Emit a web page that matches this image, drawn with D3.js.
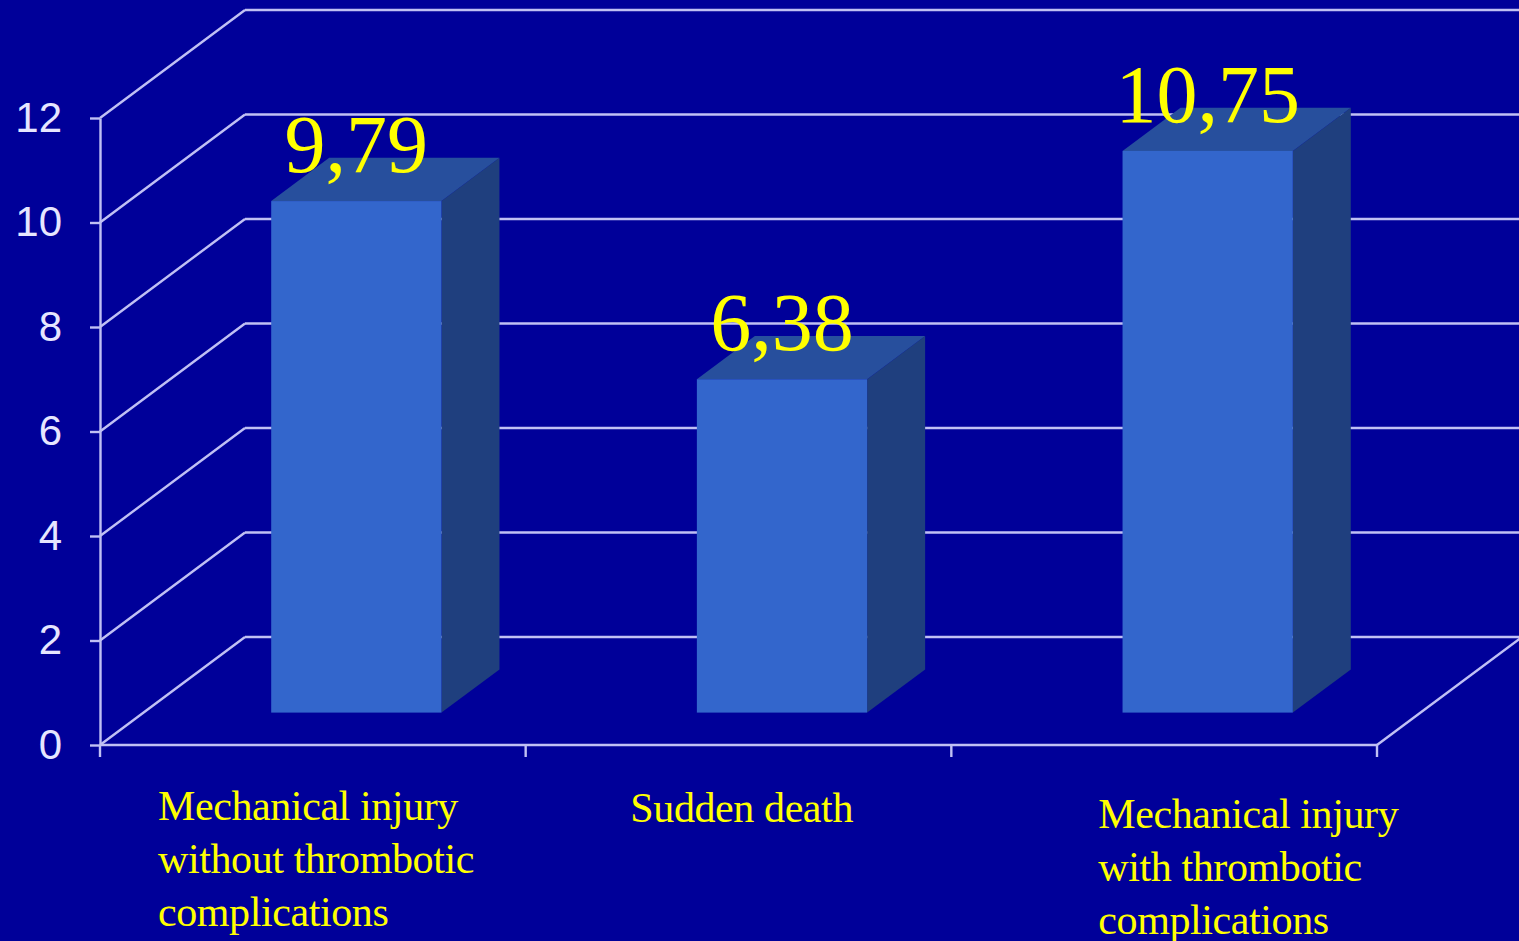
<!DOCTYPE html>
<html>
<head>
<meta charset="utf-8">
<script src="https://cdn.jsdelivr.net/npm/d3@7"></script>
<style>
  html, body { margin: 0; padding: 0; background: #000099; overflow: hidden; }
  svg { display: block; }
</style>
</head>
<body>
<svg id="chart" width="1519" height="941"></svg>
<script>
// Chart data
const categories = [
  "Mechanical injury without thrombotic complications",
  "Sudden death",
  "Mechanical injury with thrombotic complications"
];
const categoryLines = [
  ["Mechanical injury", "without thrombotic", "complications"],
  ["Sudden death"],
  ["Mechanical injury", "with thrombotic", "complications"]
];
const values = [9.79, 6.38, 10.75];
const yTicks = [0, 2, 4, 6, 8, 10, 12];

// Layout
const W = 1519, H = 941;
const plot = { left: 100, right: 1377, bottom: 745, top: 118 };
const depth = { dx: 145, dy: -108 };     // full floor depth (oblique projection)
const barDepth = [0.3, 0.7];              // bar spans this fraction of the depth
const barWidthFrac = 0.4;                 // bar width as share of the category band
const colors = {
  bg: "#000099",
  grid: "#c0c0f4",
  axisText: "#e6e6ff",
  front: "#3366cc",
  top: "#274f9d",
  side: "#1f3f7e",
  label: "#ffff00"
};
// category label anchoring relative to band start / axis line
const catLabelLayout = [
  { anchor: "start",  dx: 58,  dy: 75 },
  { anchor: "middle", dx: 216, dy: 77 },
  { anchor: "start",  dx: 147, dy: 83 }
];

const svg = d3.select("#chart");
svg.append("rect").attr("width", W).attr("height", H).attr("fill", colors.bg);

const y = d3.scaleLinear().domain([0, 12]).range([plot.bottom, plot.top]);
const x = d3.scaleBand().domain(categories).range([plot.left, plot.right]).padding(0);

const fmt = d3.formatLocale({ decimal: ",", thousands: ".", grouping: [3], currency: ["", ""] }).format(".2f");

// Back wall gridlines
const grid = svg.append("g").attr("stroke", colors.grid).attr("stroke-width", 2.4).attr("fill", "none");
grid.selectAll("line.back")
  .data(yTicks)
  .join("line")
  .attr("class", "back")
  .attr("x1", plot.left + depth.dx)
  .attr("x2", W + 10)
  .attr("y1", d => y(d) + depth.dy)
  .attr("y2", d => y(d) + depth.dy);

// Side wall diagonals
grid.selectAll("line.side")
  .data(yTicks)
  .join("line")
  .attr("class", "side")
  .attr("x1", plot.left)
  .attr("y1", d => y(d))
  .attr("x2", plot.left + depth.dx)
  .attr("y2", d => y(d) + depth.dy);

// Floor right edge
grid.append("line")
  .attr("x1", plot.right).attr("y1", y(0))
  .attr("x2", plot.right + depth.dx).attr("y2", y(0) + depth.dy);

// Bars (3D boxes)
const bars = svg.append("g");
values.forEach((v, i) => {
  const c = categories[i];
  const bw = x.bandwidth() * barWidthFrac;
  const ox = depth.dx * barDepth[0], oy = depth.dy * barDepth[0];
  const bx = depth.dx * (barDepth[1] - barDepth[0]), by = depth.dy * (barDepth[1] - barDepth[0]);
  const x0 = x(c) + (x.bandwidth() - bw) / 2 + ox;
  const x1 = x0 + bw;
  const yb = y(0) + oy;
  const yt = y(v) + oy;
  // side face
  bars.append("path")
    .attr("fill", colors.side)
    .attr("d", `M${x1},${yt} L${x1 + bx},${yt + by} L${x1 + bx},${yb + by} L${x1},${yb} Z`);
  // top face
  bars.append("path")
    .attr("fill", colors.top)
    .attr("d", `M${x0},${yt} L${x0 + bx},${yt + by} L${x1 + bx},${yt + by} L${x1},${yt} Z`);
  // front face
  bars.append("rect")
    .attr("fill", colors.front)
    .attr("x", x0).attr("y", yt)
    .attr("width", bw).attr("height", yb - yt);
  // value label
  svg.append("text")
    .attr("x", (x0 + x1) / 2)
    .attr("y", yt - 29)
    .attr("text-anchor", "middle")
    .attr("fill", colors.label)
    .attr("font-family", "'Liberation Serif', 'Times New Roman', serif")
    .attr("font-size", 82)
    .text(fmt(v));
});

// Y axis
const yAxis = d3.axisLeft(y).tickValues(yTicks).tickSize(10).tickSizeOuter(0).tickPadding(28).tickFormat(d3.format("d"));
const yg = svg.append("g").attr("transform", `translate(${plot.left},0)`).call(yAxis);
yg.selectAll("path, line").attr("stroke", colors.grid).attr("stroke-width", 2.4);
yg.selectAll("text")
  .attr("fill", colors.axisText)
  .attr("font-family", "'Liberation Sans', Arial, sans-serif")
  .attr("font-size", 42);

// X axis line and ticks at band boundaries
const xg = svg.append("g").attr("stroke", colors.grid).attr("stroke-width", 2.4);
xg.append("line")
  .attr("x1", plot.left).attr("x2", plot.right)
  .attr("y1", y(0)).attr("y2", y(0));
const boundaries = categories.map(c => x(c)).concat([x(categories[categories.length - 1]) + x.bandwidth()]);
xg.selectAll("line.tick")
  .data(boundaries)
  .join("line")
  .attr("class", "tick")
  .attr("x1", d => d).attr("x2", d => d)
  .attr("y1", y(0)).attr("y2", y(0) + 12);

// Category labels
categoryLines.forEach((lines, i) => {
  const lay = catLabelLayout[i];
  const t = svg.append("text")
    .attr("fill", colors.label)
    .attr("font-family", "'Liberation Serif', 'Times New Roman', serif")
    .attr("font-size", 42)
    .attr("letter-spacing", "-0.4px")
    .attr("text-anchor", lay.anchor);
  lines.forEach((ln, j) => {
    t.append("tspan")
      .attr("x", x(categories[i]) + lay.dx)
      .attr("y", y(0) + lay.dy + j * 53)
      .text(ln);
  });
});
</script>
</body>
</html>
